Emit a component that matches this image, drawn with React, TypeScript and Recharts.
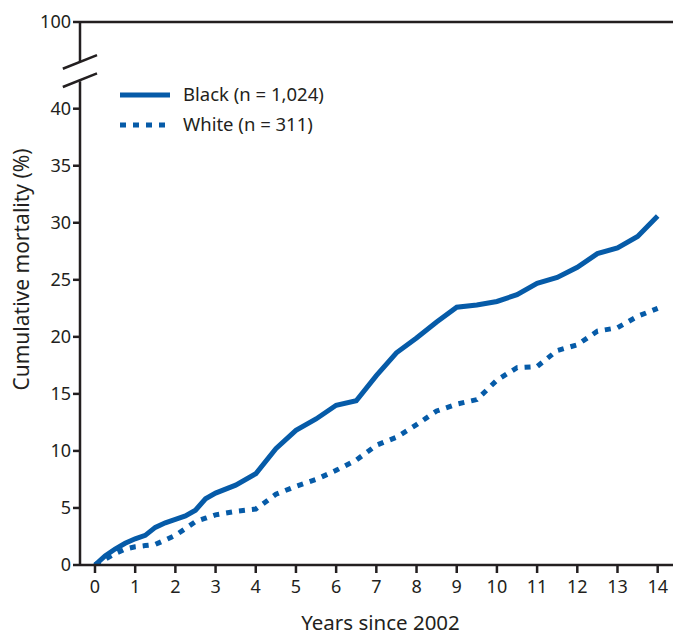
import { LineChart, Line, XAxis, YAxis, ReferenceLine } from 'recharts';

// Years since 2002
const years = [0, 0.25, 0.5, 0.75, 1, 1.25, 1.5, 1.75, 2, 2.25, 2.5, 2.75, 3, 3.5, 4, 4.5, 5, 5.5, 6, 6.5, 7, 7.5, 8, 8.5, 9, 9.5, 10, 10.5, 11, 11.5, 12, 12.5, 13, 13.5, 14];

// Cumulative mortality (%)
const black = [0, 0.8, 1.4, 1.9, 2.3, 2.6, 3.3, 3.7, 4.0, 4.3, 4.8, 5.8, 6.3, 7.0, 8.0, 10.2, 11.8, 12.8, 14.0, 14.4, 16.6, 18.6, 19.9, 21.3, 22.6, 22.8, 23.1, 23.7, 24.7, 25.2, 26.1, 27.3, 27.8, 28.8, 30.6];
const white = [0, 0.5, 1.0, 1.4, 1.6, 1.7, 1.8, 2.2, 2.6, 3.2, 3.8, 4.1, 4.4, 4.7, 4.9, 6.2, 6.9, 7.5, 8.3, 9.2, 10.5, 11.2, 12.3, 13.5, 14.1, 14.5, 16.2, 17.3, 17.4, 18.8, 19.3, 20.5, 20.8, 21.8, 22.5];

const xTicks = [0, 1, 2, 3, 4, 5, 6, 7, 8, 9, 10, 11, 12, 13, 14];
const yTicks = [0, 5, 10, 15, 20, 25, 30, 35, 40];

// the broken axis: 100 is drawn where 47.6 would sit on the linear scale
const TOP = 47.6;
const X_MIN = -0.373;
const X_MAX = 14.58;

const data = years.map((t, i) => ({ t, black: black[i], white: white[i] }));

const BLUE = '#065ba8';
const INK = '#231f20';
const FONT = '"Noto Sans", "Open Sans", sans-serif';

function LegendBox() {
  return (
    <svg width={300} height={80} style={{ position: 'absolute', left: 108, top: 67 }}>
      <line x1={4} y1={20} x2={54} y2={20} stroke={BLUE} strokeWidth={5} />
      <text x={67} y={26} fontSize={18.5} fill={INK} fontFamily={FONT}>Black (n = 1,024)</text>
      <line x1={4} y1={50} x2={54} y2={50} stroke={BLUE} strokeWidth={5} strokeDasharray="6 7" />
      <text x={67} y={56} fontSize={18.5} fill={INK} fontFamily={FONT}>White (n = 311)</text>
    </svg>
  );
}

export default function App() {
  return (
    <div style={{ fontFamily: FONT, position: 'relative', width: 673, height: 629 }}>
      <LineChart width={673} height={629} data={data} margin={{ top: 14, right: 0, bottom: 0, left: 0 }}>
        <XAxis
          dataKey="t"
          type="number"
          domain={[X_MIN, X_MAX]}
          ticks={xTicks}
          allowDataOverflow
          height={72}
          axisLine={{ stroke: INK, strokeWidth: 2.5 }}
          tickLine={{ stroke: INK, strokeWidth: 2.5 }}
          tickSize={8}
          tick={{ fill: INK, fontSize: 18, dy: 5 }}
          label={{ value: 'Years since 2002', position: 'insideBottom', offset: 7, fill: INK, fontSize: 20.5 }}
        />
        <YAxis
          type="number"
          domain={[0, TOP]}
          ticks={[...yTicks, TOP]}
          allowDataOverflow
          width={72}
          axisLine={false}
          tickLine={{ stroke: INK, strokeWidth: 2.5 }}
          tickSize={7}
          tick={{ fill: INK, fontSize: 18 }}
          tickFormatter={(v) => (v === TOP ? '100' : String(v))}
          label={{ value: 'Cumulative  mortality (%)', angle: -90, position: 'insideLeft', offset: 14, dy: -24, fill: INK, fontSize: 21, style: { textAnchor: 'middle' } }}
        />
        <ReferenceLine y={TOP} stroke={INK} strokeWidth={2.5} />
        <ReferenceLine segment={[{ x: X_MIN, y: 0 }, { x: X_MIN, y: 42.4 }]} stroke={INK} strokeWidth={2.5} ifOverflow="visible" />
        <ReferenceLine segment={[{ x: X_MIN, y: 44.1 }, { x: X_MIN, y: TOP }]} stroke={INK} strokeWidth={2.5} ifOverflow="visible" />
        <ReferenceLine segment={[{ x: -0.8, y: 41.9 }, { x: 0.05, y: 43.1 }]} stroke={INK} strokeWidth={2.5} ifOverflow="visible" />
        <ReferenceLine segment={[{ x: -0.8, y: 43.5 }, { x: 0.05, y: 44.7 }]} stroke={INK} strokeWidth={2.5} ifOverflow="visible" />
        <Line dataKey="black" stroke={BLUE} strokeWidth={5} dot={false} type="linear" isAnimationActive={false} />
        <Line dataKey="white" stroke={BLUE} strokeWidth={5} strokeDasharray="6 7" dot={false} type="linear" isAnimationActive={false} />
      </LineChart>
      <LegendBox />
    </div>
  );
}
